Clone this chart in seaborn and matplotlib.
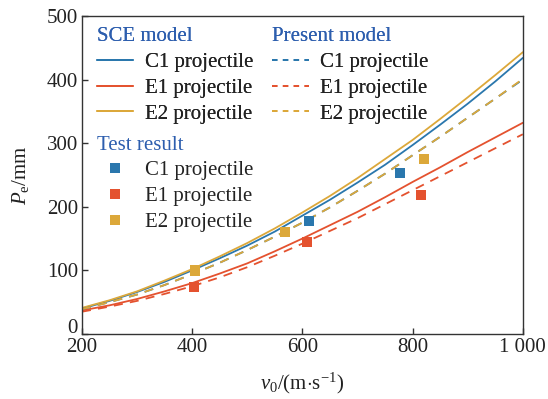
import numpy as np
import pandas as pd
import matplotlib
matplotlib.use("Agg")
import matplotlib.pyplot as plt
import matplotlib.transforms as mtransforms
import seaborn as sns
from matplotlib.lines import Line2D

# ---- data ----
v_curve = [200, 250, 300, 350, 400, 450, 500, 550, 600, 650, 700, 750, 800, 850, 900, 950, 1000]
sce_c1 = [40, 52, 66, 82, 100, 119, 139, 161, 186, 211, 238, 266, 297, 329, 362, 397, 434]
sce_e1 = [37, 45, 55, 67, 80, 95, 111, 130, 150, 171, 192, 215, 239, 262, 286, 309, 332]
sce_e2 = [41, 53, 67, 84, 102, 122, 143, 166, 191, 217, 245, 275, 305, 338, 372, 407, 443]
pre_c1 = [39, 50, 62, 77, 94, 112, 132, 153, 175, 199, 225, 252, 281, 310, 340, 370, 400]
pre_e1 = [35, 43, 52, 63, 75, 89, 105, 123, 142, 162, 182, 204, 226, 248, 270, 292, 314]
pre_e2 = [39, 50, 62, 77, 94, 112, 132, 153, 175, 199, 225, 252, 281, 310, 340, 370, 401]

test_c1_v = [405, 612, 777]
test_c1_p = [100, 178, 253]
test_e1_v = [403, 608, 815]
test_e1_p = [74, 145, 218]
test_e2_v = [405, 568, 821]
test_e2_p = [100, 160, 275]

x_ticks = [200, 400, 600, 800, 1000]
x_tick_labels = ["200", "400", "600", "800", "1 000"]
y_ticks = [0, 100, 200, 300, 400, 500]
names = ["C1 projectile", "E1 projectile", "E2 projectile"]

colors = {"C1": "#2a77ad", "E1": "#e4522f", "E2": "#dca83a"}
title_color = "#2d5eae"

sns.set_theme(style="ticks")
plt.rcParams["font.family"] = ["Liberation Serif", "DejaVu Serif"]
plt.rcParams["mathtext.fontset"] = "custom"
plt.rcParams["mathtext.rm"] = "Liberation Serif"
plt.rcParams["mathtext.it"] = "Liberation Serif:italic"

FS = 15
fig = plt.figure(figsize=(5.48, 3.99), dpi=100)
ax = fig.add_axes([0.1496, 0.163, 0.8044, 0.797])

lw = 1.3
keys = ["C1", "E1", "E2"]
sce = {"C1": sce_c1, "E1": sce_e1, "E2": sce_e2}
pre = {"C1": pre_c1, "E1": pre_e1, "E2": pre_e2}
for k in keys:
    sns.lineplot(x=v_curve, y=sce[k], ax=ax, color=colors[k], lw=lw)
for k in keys:
    sns.lineplot(x=v_curve, y=pre[k], ax=ax, color=colors[k], lw=lw,
                 linestyle=(0, (5, 4)))
tests = {"C1": (test_c1_v, test_c1_p), "E1": (test_e1_v, test_e1_p), "E2": (test_e2_v, test_e2_p)}
for k in keys:
    sns.scatterplot(x=tests[k][0], y=tests[k][1], ax=ax, color=colors[k],
                    marker="s", s=55, edgecolor="none", zorder=5)

ax.set_xlim(200, 1000)
ax.set_ylim(0, 500)
ax.set_xticks(x_ticks)
ax.set_xticklabels(x_tick_labels)
ax.set_yticks(y_ticks)
ax.tick_params(direction="in", length=4, width=1, labelsize=FS, colors="#333333",
               labelcolor="#222222", pad=3)
# nudge the "0" y label up a little so it clears the "200" x label
lab0 = ax.get_yticklabels()[0]
lab0.set_transform(lab0.get_transform() +
                   mtransforms.ScaledTranslation(0, 6 / 72, fig.dpi_scale_trans))
for s in ax.spines.values():
    s.set_color("#333333")
    s.set_linewidth(1.0)
ax.set_xlabel(r"$v_0$/(m$\cdot$s$^{-1}$)", fontsize=FS, color="#222222", labelpad=10)
ax.set_ylabel(r"$P_\mathrm{e}$/mm", fontsize=FS, color="#222222", labelpad=11)

def make_legend(handles, title, anchor):
    leg = fig.legend(handles=handles, labels=names, title=title, loc="upper left",
                     bbox_to_anchor=anchor, frameon=False, fontsize=FS,
                     title_fontsize=FS, handlelength=1.75, handletextpad=0.55,
                     labelspacing=0.3, borderpad=0, borderaxespad=0,
                     alignment="left")
    leg.get_title().set_color(title_color)
    for t in leg.get_texts():
        t.set_color("#222222")
    return leg

h1 = [Line2D([], [], color=colors[k], lw=lw) for k in keys]
h2 = [Line2D([], [], color=colors[k], lw=lw, linestyle=(0, (3, 3))) for k in keys]
h3 = [Line2D([], [], color=colors[k], lw=0, marker="s", markersize=6.5,
             markeredgewidth=0) for k in keys]
l1 = make_legend(h1, "SCE model", (0.177, 0.932))
fig.add_artist(l1)
l2 = make_legend(h2, "Present model", (0.497, 0.932))
fig.add_artist(l2)
l3 = make_legend(h3, "Test result", (0.177, 0.66))

fig.savefig("out.png", dpi=100)
